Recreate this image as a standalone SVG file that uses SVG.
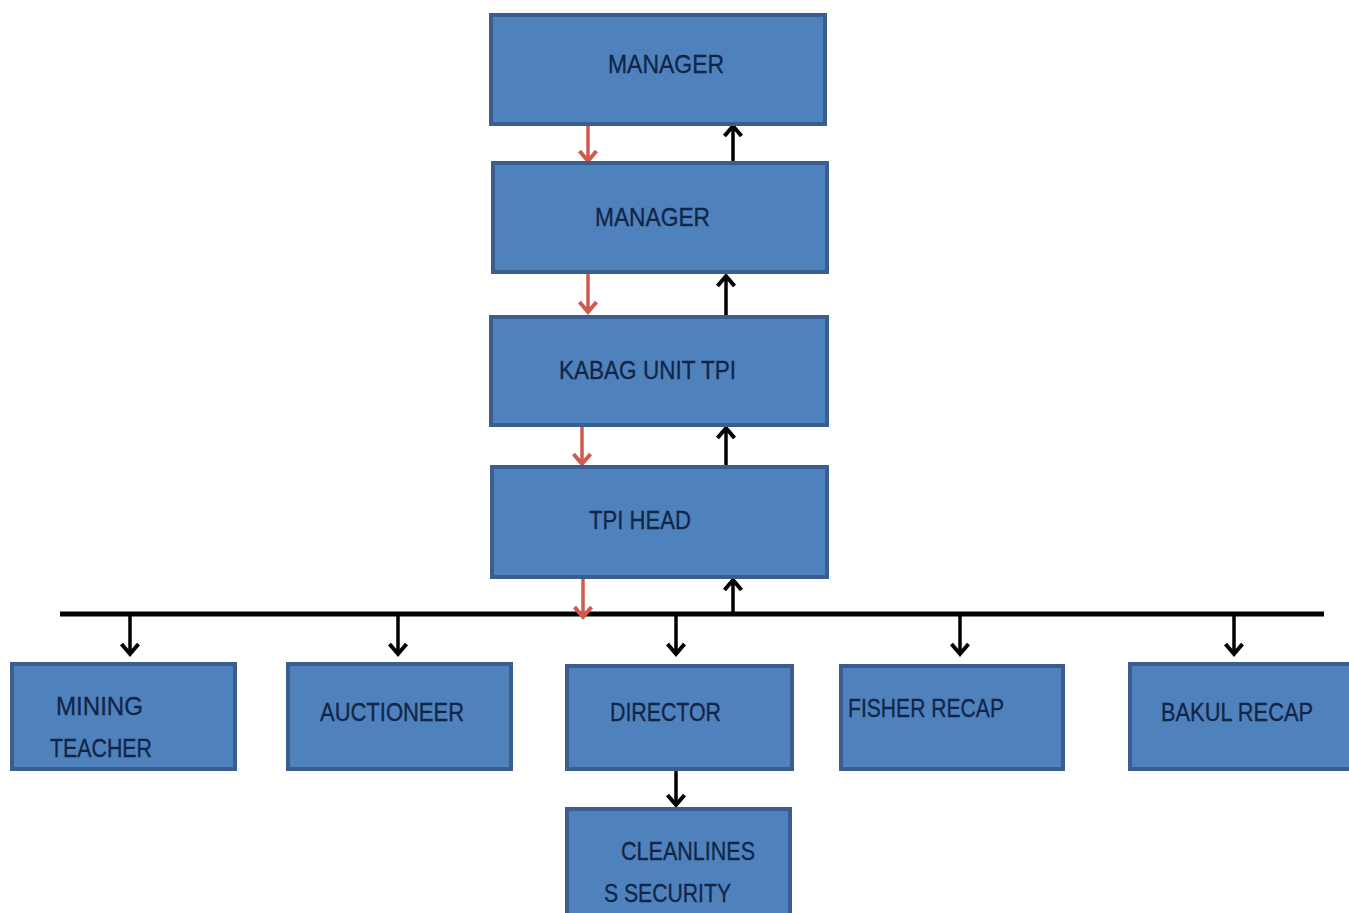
<svg xmlns="http://www.w3.org/2000/svg" width="1349" height="913" viewBox="0 0 1349 913">
<style>
.box{fill:#4f81bd;stroke:#3a5f8e;stroke-width:4}
.t{font-family:"Liberation Sans",Arial,sans-serif;font-size:25px;fill:#112647;stroke:#112647;stroke-width:0.3}
.blk{stroke:#000;stroke-width:3.5;fill:none}
.red{stroke:#cf5a4e;stroke-width:3.5;fill:none}
</style>
<defs>
<marker id="ab" markerUnits="userSpaceOnUse" markerWidth="30" markerHeight="30" viewBox="-15 -15 30 30" refX="0" refY="0" orient="auto" overflow="visible">
<path d="M-10,-8.5 L0,0 L-10,8.5" fill="none" stroke="#000" stroke-width="4"/>
</marker>
<marker id="ar" markerUnits="userSpaceOnUse" markerWidth="30" markerHeight="30" viewBox="-15 -15 30 30" refX="0" refY="0" orient="auto" overflow="visible">
<path d="M-10,-8.5 L0,0 L-10,8.5" fill="none" stroke="#cf5a4e" stroke-width="4"/>
</marker>
</defs>
<rect width="1349" height="913" fill="#fff"/>
<g id="connectors">
<line class="red" x1="588" y1="125" x2="588" y2="161" marker-end="url(#ar)"/>
<line class="blk" x1="733" y1="162" x2="733" y2="126" marker-end="url(#ab)"/>
<line class="red" x1="588" y1="273" x2="588" y2="312" marker-end="url(#ar)"/>
<line class="blk" x1="726" y1="316" x2="726" y2="276" marker-end="url(#ab)"/>
<line class="red" x1="582" y1="426" x2="582" y2="464" marker-end="url(#ar)"/>
<line class="blk" x1="726" y1="466" x2="726" y2="428" marker-end="url(#ab)"/>
<line x1="60" y1="614" x2="1324" y2="614" stroke="#000" stroke-width="5"/>
<line class="red" x1="583" y1="578" x2="583" y2="617" marker-end="url(#ar)"/>
<line class="blk" x1="733" y1="614" x2="733" y2="580" marker-end="url(#ab)"/>
<line class="blk" x1="130" y1="614" x2="130" y2="654" marker-end="url(#ab)"/>
<line class="blk" x1="398" y1="614" x2="398" y2="654" marker-end="url(#ab)"/>
<line class="blk" x1="676" y1="614" x2="676" y2="654" marker-end="url(#ab)"/>
<line class="blk" x1="960" y1="614" x2="960" y2="654" marker-end="url(#ab)"/>
<line class="blk" x1="1234" y1="614" x2="1234" y2="654" marker-end="url(#ab)"/>
<line class="blk" x1="676" y1="770" x2="676" y2="805" marker-end="url(#ab)"/>
</g>
<g id="manager1"><rect class="box" x="491" y="15" width="334" height="109"/><text class="t" x="608" y="73" textLength="116" lengthAdjust="spacingAndGlyphs">MANAGER</text></g>
<g id="manager2"><rect class="box" x="493" y="163" width="334" height="109"/><text class="t" x="595" y="226" textLength="115" lengthAdjust="spacingAndGlyphs">MANAGER</text></g>
<g id="kabag"><rect class="box" x="491" y="317" width="336" height="108"/><text class="t" x="559" y="379" textLength="177" lengthAdjust="spacingAndGlyphs">KABAG UNIT TPI</text></g>
<g id="tpihead"><rect class="box" x="492" y="467" width="335" height="110"/><text class="t" x="589" y="529" textLength="102" lengthAdjust="spacingAndGlyphs">TPI HEAD</text></g>
<g id="mining"><rect class="box" x="12" y="664" width="223" height="105"/><text class="t" x="56" y="715" textLength="87" lengthAdjust="spacingAndGlyphs">MINING</text><text class="t" x="50" y="757" textLength="102" lengthAdjust="spacingAndGlyphs">TEACHER</text></g>
<g id="auctioneer"><rect class="box" x="288" y="664" width="223" height="105"/><text class="t" x="320" y="721" textLength="144" lengthAdjust="spacingAndGlyphs">AUCTIONEER</text></g>
<g id="director"><rect class="box" x="567" y="666" width="225" height="103"/><text class="t" x="610" y="721" textLength="111" lengthAdjust="spacingAndGlyphs">DIRECTOR</text></g>
<g id="fisher"><rect class="box" x="841" y="666" width="222" height="103"/><text class="t" x="848" y="717" textLength="156" lengthAdjust="spacingAndGlyphs">FISHER RECAP</text></g>
<g id="bakul"><rect class="box" x="1130" y="664" width="221" height="105"/><text class="t" x="1161" y="721" textLength="152" lengthAdjust="spacingAndGlyphs">BAKUL RECAP</text></g>
<g id="cleanliness"><rect class="box" x="567" y="809" width="223" height="106"/><text class="t" x="621" y="860" textLength="134" lengthAdjust="spacingAndGlyphs">CLEANLINES</text><text class="t" x="604" y="902" textLength="127" lengthAdjust="spacingAndGlyphs">S SECURITY</text></g>
</svg>
